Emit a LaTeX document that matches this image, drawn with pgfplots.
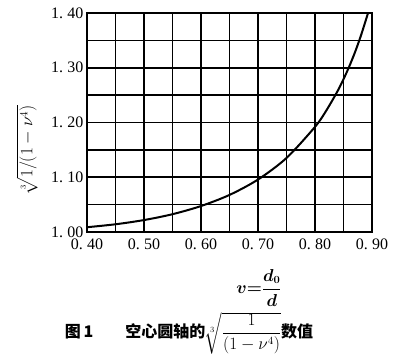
\documentclass[border=0pt]{standalone}
\usepackage{amsmath}
\usepackage{bm}
\usepackage{pgfplots}
\pgfplotsset{compat=1.18}
\usepackage{fontspec}
\setmainfont{Liberation Serif}
\newfontfamily\cjk{Noto Sans CJK SC}
\begin{document}
\begin{tikzpicture}[x=1pt,y=1pt]
\useasboundingbox (0,0) rectangle (400,363);
\begin{axis}[
  at={(87pt,131pt)}, anchor=south west,
  width=285pt, height=219pt, scale only axis,
  xmin=0.4, xmax=0.9, ymin=1.0, ymax=1.4,
  xtick={0.40,0.45,0.50,0.55,0.60,0.65,0.70,0.75,0.80,0.85,0.90},
  xticklabels={0.\;40,,0.\;50,,0.\;60,,0.\;70,,0.\;80,,0.\;90},
  ytick={1.00,1.05,1.10,1.15,1.20,1.25,1.30,1.35,1.40},
  yticklabels={1.\;00,,1.\;10,,1.\;20,,1.\;30,,1.\;40},
  major tick length=0pt,
  grid=major,
  major grid style={black, line width=1.6pt},
  axis line style={black, line width=1.6pt},
  tick label style={font=\fontsize{16}{17}\selectfont},
  xticklabel style={yshift=-3pt},
  yticklabel style={xshift=0pt},
]
\addplot[black, line width=2pt, smooth] coordinates {
(0.40,1.0087) (0.45,1.0141) (0.50,1.0218) (0.55,1.0325) (0.60,1.0474)
(0.65,1.0677) (0.70,1.0958) (0.75,1.1352) (0.80,1.1920) (0.82,1.2221)
(0.84,1.2581) (0.85,1.2790) (0.86,1.3021) (0.87,1.3279) (0.88,1.3569)
(0.89,1.3897) (0.893,1.400)
};
\end{axis}
\node[rotate=90, font=\fontsize{16}{18}\selectfont, inner sep=1pt] at (27,213) {$\sqrt[3]{1/(1-\nu^4)}$};
\node[font=\fontsize{16}{17}\selectfont] at (259,75) {$\bm{v{=}\dfrac{d_0}{d}}$};
\node[font=\fontsize{16}{18}\selectfont, inner sep=0pt] at (189,30) {{\cjk\bfseries 图\,1}\hspace{2em}{\cjk\bfseries 空心圆轴的}$\sqrt[3]{\dfrac{1}{(1-\nu^4)}}${\cjk\bfseries 数值}};
\end{tikzpicture}
\end{document}
